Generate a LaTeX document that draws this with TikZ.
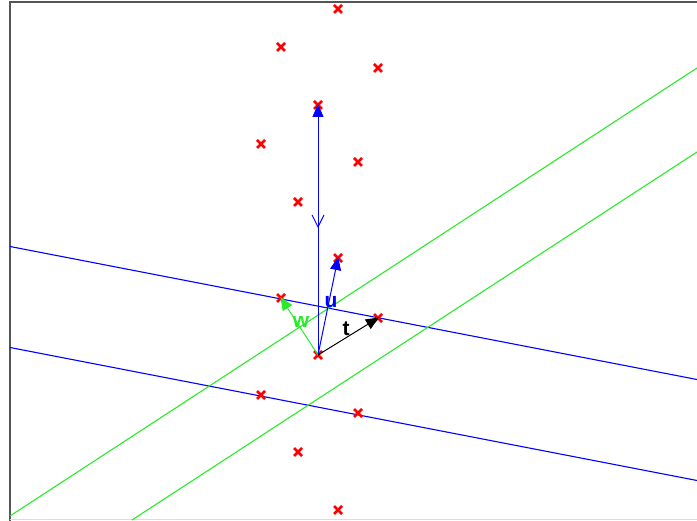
\documentclass[tikz,border=0pt]{standalone}
\usepackage{fontspec}
\setmainfont{Liberation Sans}
\usetikzlibrary{arrows.meta,shapes.misc}
\definecolor{lgreen}{RGB}{40,235,40}
\definecolor{framec}{RGB}{85,85,85}
\definecolor{lightframe}{RGB}{220,220,220}
\begin{document}
\begin{tikzpicture}[x=1pt,y=-1pt,
  sample/.style={draw=red,cross out,line width=2.8pt,minimum size=8pt,inner sep=0pt,outer sep=0pt},
  vecarrow/.style={line width=1pt,-{Triangle[length=13pt,width=11pt]},shorten >=-1pt},
  sepline/.style={line width=1.1pt},
  lbl/.style={font=\bfseries\fontsize{21}{21}\selectfont,inner sep=0pt}]
\useasboundingbox (0,0) rectangle (697,521);
% frame
\draw[framec,line width=2pt] (10,521) -- (10,2) -- (697,2);
\draw[lightframe,line width=1pt] (10,520) -- (697,520);
% separating lines
\coordinate (b1s) at (10,246.5);
\coordinate (b1e) at (697,379.5);
\coordinate (b2s) at (10,347.5);
\coordinate (b2e) at (697,480.5);
\coordinate (g1s) at (10,516);
\coordinate (g1e) at (697,68);
\coordinate (g2s) at (132,520);
\coordinate (g2e) at (697,152);
\draw[blue,sepline] (b1s) -- (b1e);
\draw[blue,sepline] (b2s) -- (b2e);
\draw[lgreen,sepline] (g1s) -- (g1e);
\draw[lgreen,sepline] (g2s) -- (g2e);
% samples
\node[sample] (p1) at (338,9) {};
\node[sample] (p2) at (281,47) {};
\node[sample] (p3) at (378,68) {};
\node[sample] (p4) at (318,105) {};
\node[sample] (p5) at (261,144) {};
\node[sample] (p6) at (358,162) {};
\node[sample] (p7) at (298,202) {};
\node[sample] (p8) at (338,258) {};
\node[sample] (p9) at (281,298) {};
\node[sample] (p10) at (378,318) {};
\node[sample] (p11) at (318,355) {};
\node[sample] (p12) at (261,395) {};
\node[sample] (p13) at (358,413) {};
\node[sample] (p14) at (298,452) {};
\node[sample] (p15) at (338,510) {};
% vectors
\coordinate (mid) at (318,228);
\draw[blue,vecarrow] (p11.center) -- (p4.center);
\draw[blue,line width=1pt,-{Straight Barb[length=12pt,width=12pt]}] (p4.center) -- (mid);
\draw[blue,vecarrow] (p11.center) -- (p8.center);
\draw[lgreen,vecarrow] (p11.center) -- (p9.center);
\draw[black,vecarrow] (p11.center) -- (p10.center);
% labels
\node[lbl,text=blue] (lu) at (331,302) {u};
\node[lbl,text=lgreen] (lw) at (301,322) {w};
\node[lbl,text=black] (lt) at (346,329) {t};
\end{tikzpicture}
\end{document}
